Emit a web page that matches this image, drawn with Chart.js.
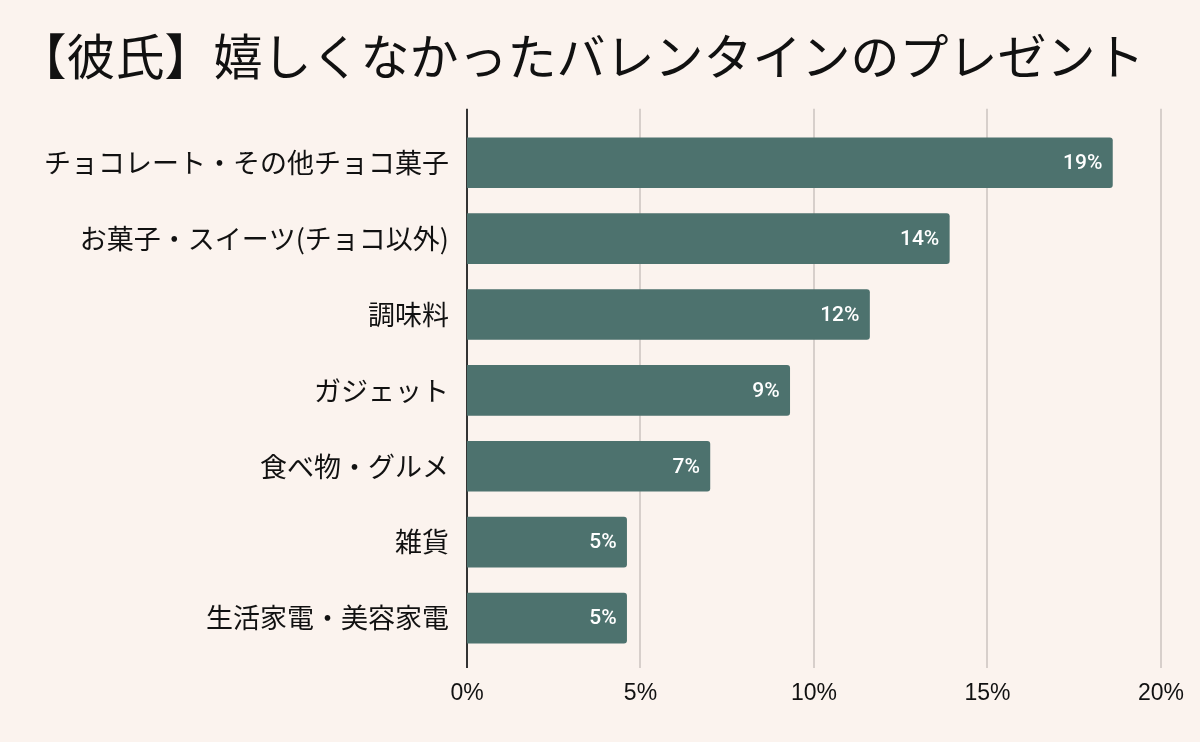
<!DOCTYPE html>
<html>
<head>
<meta charset="utf-8">
<script src="https://cdn.jsdelivr.net/npm/chart.js@4"></script>
<style>
  html, body { margin: 0; padding: 0; background: #fbf3ee; }
  #wrap { width: 1200px; height: 742px; }
</style>
</head>
<body>
<div id="wrap"><canvas id="giftChart" width="1200" height="742"></canvas></div>
<script>
const titleText = '【彼氏】嬉しくなかったバレンタインのプレゼント';
const categories = [
    'チョコレート・その他チョコ菓子',
    'お菓子・スイーツ(チョコ以外)',
    '調味料',
    'ガジェット',
    '食べ物・グルメ',
    '雑貨',
    '生活家電・美容家電'
];
const percentValues = [18.6, 13.9, 11.6, 9.3, 7.0, 4.6, 4.6];
const xTicks = [0, 5, 10, 15, 20];

const jpFont = '"Noto Sans CJK JP", "Noto Sans", sans-serif';

// grid lines + axis line drawn a bit taller than the bar band, like the original
const gridPlugin = {
    id: 'gridLines',
    beforeDatasetsDraw(chart) {
        const { ctx, chartArea, scales } = chart;
        const top = chartArea.top - 16;
        const bottom = chartArea.bottom + 12;
        ctx.save();
        xTicks.forEach(t => {
            const x = Math.round(scales.x.getPixelForValue(t));
            ctx.beginPath();
            ctx.lineWidth = t === 0 ? 2 : 1.5;
            ctx.strokeStyle = t === 0 ? '#333333' : '#cbc3bf';
            ctx.moveTo(x, top);
            ctx.lineTo(x, bottom);
            ctx.stroke();
        });
        ctx.restore();
    }
};

// value labels inside the end of each bar
const valueLabels = {
    id: 'valueLabels',
    afterDatasetsDraw(chart) {
        const { ctx } = chart;
        const meta = chart.getDatasetMeta(0);
        ctx.save();
        ctx.fillStyle = '#ffffff';
        ctx.font = '500 21px Roboto, "Noto Sans", sans-serif';
        ctx.textAlign = 'right';
        ctx.textBaseline = 'middle';
        meta.data.forEach((bar, i) => {
            ctx.fillText(Math.round(percentValues[i]) + '%', bar.x - 10, bar.y + 1);
        });
        ctx.restore();
    }
};

new Chart(document.getElementById('giftChart').getContext('2d'), {
    type: 'bar',
    data: {
        labels: categories,
        datasets: [{
            data: percentValues,
            backgroundColor: '#4d726e',
            borderRadius: { topRight: 3, bottomRight: 3, topLeft: 0, bottomLeft: 0 },
            borderSkipped: 'start',
            barThickness: 50
        }]
    },
    options: {
        indexAxis: 'y',
        responsive: false,
        animation: false,
        layout: { padding: { left: 0, right: 38, top: 0, bottom: 0 } },
        plugins: {
            legend: { display: false },
            tooltip: { enabled: false },
            title: {
                display: true,
                text: titleText,
                color: '#111111',
                font: { family: jpFont, size: 49, weight: '400', lineHeight: 1.2 },
                padding: { top: 27, bottom: 39 }
            }
        },
        scales: {
            x: {
                min: 0,
                max: 20,
                afterBuildTicks(scale) {
                    scale.ticks = xTicks.map(v => ({ value: v }));
                },
                afterFit(scale) { scale.height = 86; },
                grid: { display: false },
                border: { display: false },
                ticks: {
                    padding: 16,
                    color: '#111111',
                    font: { family: '"Liberation Sans", Arial, sans-serif', size: 23 },
                    callback: v => v + '%'
                }
            },
            y: {
                afterFit(scale) { scale.width = 467; },
                grid: { display: false },
                border: { display: false },
                ticks: {
                    padding: 10,
                    color: '#111111',
                    font: { family: jpFont, size: 27 }
                }
            }
        }
    },
    plugins: [gridPlugin, valueLabels]
});
</script>
</body>
</html>
